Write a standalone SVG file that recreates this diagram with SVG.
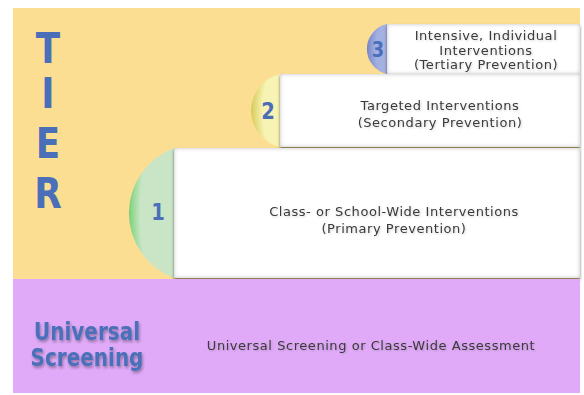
<svg xmlns="http://www.w3.org/2000/svg" width="584" height="395" viewBox="0 0 584 395">
  <defs>
    <style>
      .big { font-family: "DejaVu Sans", "Liberation Sans", sans-serif; font-weight: bold; fill: #4A6FB8; text-anchor: middle; }
      .lbl { font-family: "DejaVu Sans", "Liberation Sans", sans-serif; font-size: 13px; letter-spacing: 0.55px; fill: #3a3a3a; text-anchor: middle; filter: url(#lblshadow); }
      .box { fill: #ffffff; filter: url(#bevel); }
    </style>
    <!-- white panel: outer drop shadow plus soft inner edge shading -->
    <filter id="bevel" x="-5%" y="-10%" width="110%" height="125%">
      <feGaussianBlur in="SourceAlpha" stdDeviation="1.6" result="b"/>
      <feOffset in="b" dx="0" dy="1.5" result="o"/>
      <feFlood flood-color="#000" flood-opacity="0.5"/>
      <feComposite in2="o" operator="in" result="sh"/>
      <feFlood flood-color="#000" flood-opacity="0.5"/>
      <feComposite in2="SourceAlpha" operator="out" result="inv"/>
      <feGaussianBlur in="inv" stdDeviation="2.2" result="ib"/>
      <feComposite in="ib" in2="SourceAlpha" operator="in" result="is"/>
      <feMerge><feMergeNode in="sh"/><feMergeNode in="SourceGraphic"/><feMergeNode in="is"/></feMerge>
    </filter>
    <filter id="inner" x="0" y="0" width="100%" height="100%">
      <feFlood flood-color="#000" flood-opacity="0.35"/>
      <feComposite in2="SourceAlpha" operator="out" result="inv"/>
      <feGaussianBlur in="inv" stdDeviation="2.5" result="ib"/>
      <feComposite in="ib" in2="SourceAlpha" operator="in" result="is"/>
      <feMerge><feMergeNode in="SourceGraphic"/><feMergeNode in="is"/></feMerge>
    </filter>
    <filter id="txtshadow" x="-10%" y="-30%" width="120%" height="160%">
      <feGaussianBlur in="SourceAlpha" stdDeviation="1.4" result="b"/>
      <feOffset in="b" dx="1" dy="2" result="o"/>
      <feFlood flood-color="#000" flood-opacity="0.35"/>
      <feComposite in2="o" operator="in" result="sh"/>
      <feMerge><feMergeNode in="sh"/><feMergeNode in="SourceGraphic"/></feMerge>
    </filter>
    <filter id="lblshadow" x="-10%" y="-30%" width="120%" height="160%">
      <feGaussianBlur in="SourceAlpha" stdDeviation="1" result="b"/>
      <feOffset in="b" dx="0.5" dy="1" result="o"/>
      <feFlood flood-color="#000" flood-opacity="0.18"/>
      <feComposite in2="o" operator="in" result="sh"/>
      <feMerge><feMergeNode in="sh"/><feMergeNode in="SourceGraphic"/></feMerge>
    </filter>
    <radialGradient id="gGreen" cx="1" cy="0.5" r="1">
      <stop offset="0.75" stop-color="#C9E5C6"/>
      <stop offset="0.93" stop-color="#8FD88C"/>
      <stop offset="1" stop-color="#7ACC78"/>
    </radialGradient>
    <radialGradient id="gYellow" cx="1" cy="0.5" r="1">
      <stop offset="0.6" stop-color="#F7F3B4"/>
      <stop offset="0.92" stop-color="#DDD46A"/>
      <stop offset="1" stop-color="#CFC65A"/>
    </radialGradient>
    <radialGradient id="gBlue" cx="1" cy="0.5" r="1">
      <stop offset="0.55" stop-color="#A3B0E2"/>
      <stop offset="0.92" stop-color="#7E8ECD"/>
      <stop offset="1" stop-color="#6E7FC2"/>
    </radialGradient>
  </defs>

  <rect width="584" height="395" fill="#ffffff"/>

  <!-- tier field -->
  <g id="tier-field">
    <rect x="13" y="8" width="567" height="271" fill="#FCDE93" filter="url(#inner)"/>
    <g transform="translate(48,0) scale(0.85,1)">
      <text class="big" font-size="42" x="0" y="63">T</text>
      <text class="big" font-size="42" x="0" y="108">I</text>
      <text class="big" font-size="42" x="0" y="158">E</text>
      <text class="big" font-size="42" x="0" y="208">R</text>
    </g>
  </g>

  <!-- tier 3 -->
  <g id="tier3">
    <path d="M387,24 A25.6,25.6 0 0 0 387,74 Z" fill="url(#gBlue)"/>
    <text class="big" font-size="21" x="378" y="57" transform="translate(378,0) scale(0.85,1) translate(-378,0)">3</text>
    <rect class="box" x="387" y="24" width="193" height="50"/>
    <text class="lbl" x="486" y="40">Intensive, Individual</text>
    <text class="lbl" x="486" y="55">Interventions</text>
    <text class="lbl" x="486" y="69">(Tertiary Prevention)</text>
  </g>

  <!-- tier 2 -->
  <g id="tier2">
    <path d="M280,74 A37.5,37.5 0 0 0 280,147 Z" fill="url(#gYellow)"/>
    <text class="big" font-size="23" x="268" y="119" transform="translate(268,0) scale(0.85,1) translate(-268,0)">2</text>
    <rect class="box" x="280" y="74" width="300" height="73"/>
    <text class="lbl" x="440" y="110">Targeted Interventions</text>
    <text class="lbl" x="440" y="127">(Secondary Prevention)</text>
  </g>

  <!-- tier 1 -->
  <g id="tier1">
    <path d="M174,148 A69.4,69.4 0 0 0 174,278 Z" fill="url(#gGreen)"/>
    <text class="big" font-size="23" x="158" y="220" transform="translate(158,0) scale(0.85,1) translate(-158,0)">1</text>
    <rect class="box" x="174" y="148" width="406" height="130"/>
    <text class="lbl" x="394" y="216">Class- or School-Wide Interventions</text>
    <text class="lbl" x="394" y="233">(Primary Prevention)</text>
  </g>

  <!-- universal screening band -->
  <g id="screening">
    <rect x="13" y="279" width="567" height="114" fill="#E0AAF8" filter="url(#inner)"/>
    <g filter="url(#txtshadow)">
      <g transform="translate(87,0) scale(0.8,1)">
        <text class="big" font-size="25" x="0" y="340">Universal</text>
        <text class="big" font-size="25" x="0" y="366">Screening</text>
      </g>
    </g>
    <text class="lbl" x="371" y="350">Universal Screening or Class-Wide Assessment</text>
  </g>
</svg>
